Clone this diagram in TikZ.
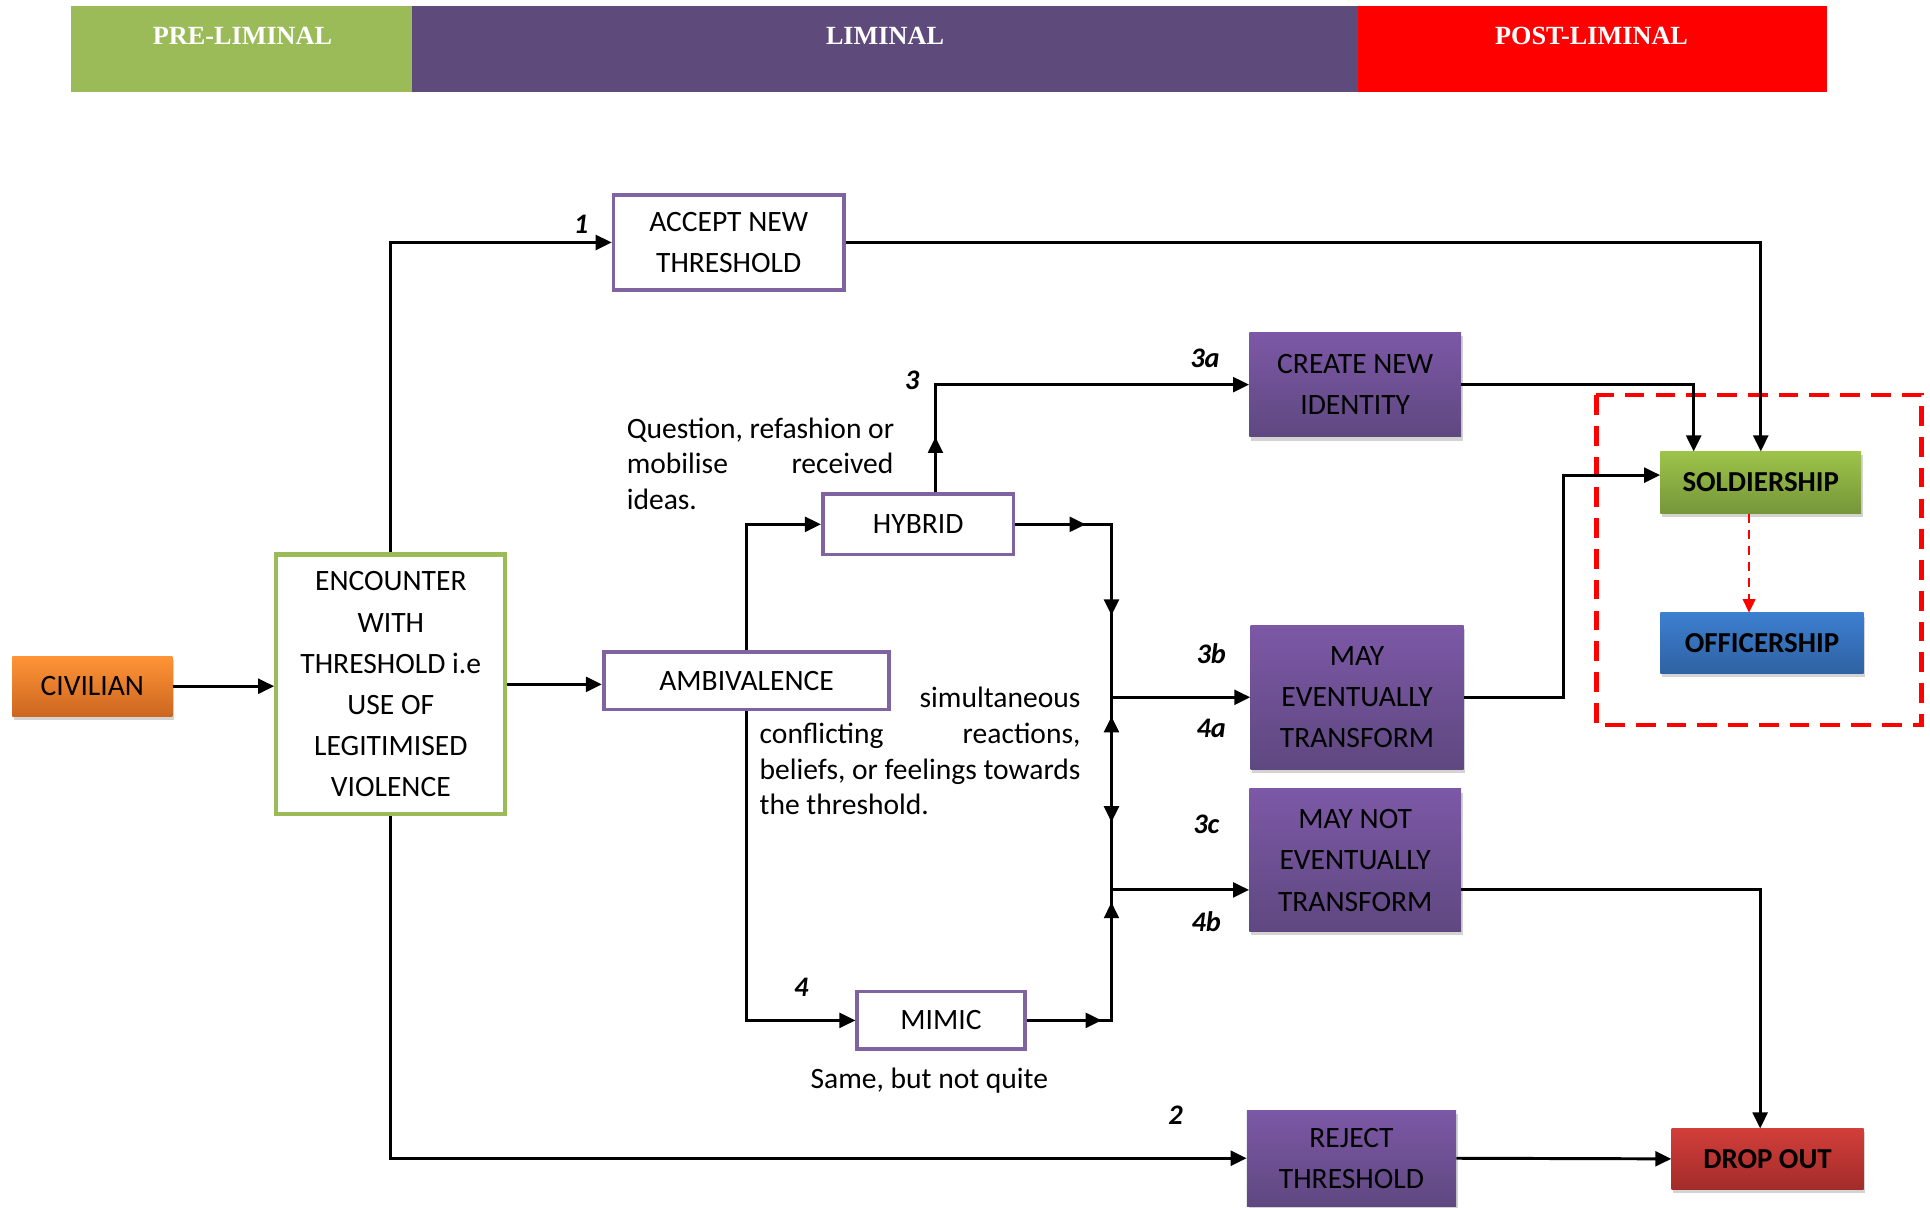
\documentclass[tikz,border=0pt]{standalone}
\usepackage{fontspec}
\setmainfont{Carlito}
\newfontfamily\hdfont{Liberation Serif}
\usetikzlibrary{arrows.meta,shadows}
\definecolor{hgreen}{HTML}{9BBB59}
\definecolor{hpurple}{HTML}{5F4B7B}
\definecolor{hred}{HTML}{FF0000}
\definecolor{outpurple}{HTML}{8064A2}
\definecolor{outgreen}{HTML}{9BBB59}
\definecolor{ptop}{RGB}{124,88,166}
\definecolor{pbot}{RGB}{95,72,128}
\definecolor{otop}{RGB}{255,148,54}
\definecolor{obot}{RGB}{204,102,32}
\definecolor{gtop}{RGB}{157,195,73}
\definecolor{gbot}{RGB}{118,150,58}
\definecolor{btop}{RGB}{61,127,208}
\definecolor{bbot}{RGB}{46,98,163}
\definecolor{rtop}{RGB}{210,62,58}
\definecolor{rbot}{RGB}{163,44,42}
\begin{document}
\begin{tikzpicture}[x=1pt,y=-1pt,
  font=\fontsize{24}{33.5}\selectfont,
  hdtext/.style={text=white,font=\hdfont\bfseries\fontsize{21.3}{24}\selectfont},
  outbox/.style={draw=outpurple,line width=3pt,fill=white,inner sep=0pt,align=center},
  gbox/.style={draw=outgreen,line width=3.5pt,fill=white,inner sep=0pt,align=center},
  shbox/.style={inner sep=0pt,align=center,
    drop shadow={opacity=0.35,shadow xshift=1.5pt,shadow yshift=-3pt}},
  purplebox/.style={shbox,top color=ptop,bottom color=pbot},
  orangebox/.style={shbox,top color=otop,bottom color=obot},
  greenbox/.style={shbox,font=\bfseries\fontsize{23.5}{28}\selectfont,top color=gtop,bottom color=gbot},
  bluebox/.style={shbox,font=\bfseries\fontsize{23.5}{28}\selectfont,top color=btop,bottom color=bbot},
  redbox/.style={shbox,font=\bfseries\fontsize{23.5}{28}\selectfont,top color=rtop,bottom color=rbot},
  arr/.style={draw,line width=2.4pt,-{Triangle[length=13pt,width=12pt]}},
  line/.style={draw,line width=2.4pt},
  num/.style={font=\bfseries\itshape\fontsize{23}{26}\selectfont,inner sep=0pt},
  note/.style={inner sep=0pt}
]
\useasboundingbox (0,0) rectangle (1568,981);

% phase bands
\fill[hgreen] (58,5) rectangle (336,75);
\fill[hpurple] (335,5) rectangle (1104,75);
\fill[hred] (1103,5) rectangle (1484,75);
\node[hdtext] (hpre) at (197,29) {PRE-LIMINAL};
\node[hdtext] (hlim) at (719,29) {LIMINAL};
\node[hdtext] (hpost) at (1293,29) {POST-LIMINAL};

% nodes
\node[orangebox,minimum width=130pt,minimum height=49pt] (civ) at (75,557.5) {CIVILIAN};
\node[gbox,minimum width=186pt,minimum height=211pt] (enc) at (317.5,556)
  {ENCOUNTER\\WITH\\THRESHOLD i.e\\USE OF\\LEGITIMISED\\VIOLENCE};
\node[outbox,minimum width=187pt,minimum height=77pt] (acc) at (592,197) {ACCEPT NEW\\THRESHOLD};
\node[outbox,minimum width=155pt,minimum height=49pt] (hyb) at (746,426) {HYBRID};
\node[outbox,minimum width=232pt,minimum height=47pt] (amb) at (606.5,553) {AMBIVALENCE};
\node[outbox,minimum width=136pt,minimum height=47pt] (mim) at (764.5,829) {MIMIC};
\node[purplebox,minimum width=172pt,minimum height=85pt] (cni) at (1101,312.5) {CREATE NEW\\IDENTITY};
\node[purplebox,minimum width=173pt,minimum height=117pt] (met) at (1102.5,566.5) {MAY\\EVENTUALLY\\TRANSFORM};
\node[purplebox,minimum width=172pt,minimum height=116pt] (mnt) at (1101,699) {MAY NOT\\EVENTUALLY\\TRANSFORM};
\node[purplebox,minimum width=170pt,minimum height=78pt] (rej) at (1098,941) {REJECT\\THRESHOLD};
\node[greenbox,minimum width=163pt,minimum height=50pt] (sol) at (1430.5,392) {SOLDIERSHIP};
\node[bluebox,minimum width=165pt,minimum height=49pt] (off) at (1431.5,522.5) {OFFICERSHIP};
\node[redbox,minimum width=156pt,minimum height=49pt] (drop) at (1436,941.5) {DROP OUT};

% dashed frame around the post-liminal outcomes
\draw[hred,line width=3.5pt,dash pattern=on 16pt off 9pt] (1297,321) rectangle (1561,589);

% bus and helper points
\coordinate (bt) at (903,426);
\coordinate (bb) at (903,829);
\coordinate (j1) at (903,566.5);
\coordinate (j2) at (903,723);
\coordinate (ah) at (882,426);
\coordinate (am) at (895,829);
\coordinate (d1) at (903,500);
\coordinate (u1a) at (903,620);
\coordinate (u1) at (903,582);
\coordinate (d2) at (903,668);
\coordinate (u2a) at (903,770);
\coordinate (u2) at (903,733);
\coordinate (h3) at (760,355);
\coordinate (jm) at (1270,386);

% connectors
\draw[arr] (civ.east) -- (civ.east -| enc.west);
\draw[arr] (enc.north) |- (acc.west);
\draw[arr] (enc.east) -- (enc.east -| amb.west);
\draw[arr] (enc.south) |- (rej.west);
\draw[arr] (acc.east) -| (sol.north);
\draw[arr] (amb.north) |- (hyb.west);
\draw[arr] (amb.south) |- (mim.west);
\draw[arr] ([xshift=14pt]hyb.north) |- (cni.west);
\draw[arr] ([xshift=14pt]hyb.north) -- (h3);
\draw[arr] (cni.east) -| ([xshift=-54.5pt]sol.north);
\draw[line] (hyb.east) -- (bt) -- (bb) -- (mim.east);
\draw[arr] (hyb.east) -- (ah);
\draw[arr] (mim.east) -- (am);
\draw[arr] (bt) -- (d1);
\draw[arr] (u1a) -- (u1);
\draw[arr] (j1) -- (d2);
\draw[arr] (u2a) -- (u2);
\draw[arr] (j1) -- (met.west);
\draw[arr] (j2) -- (j2 -| mnt.west);
\draw[arr] (met.east) -- (met.east -| jm) |- (jm) -- ([yshift=6pt]sol.west);
\draw[arr] ([yshift=-24pt]mnt.east) -| ([xshift=-6pt]drop.north);
\draw[arr] (rej.east) -- (drop.west);
\draw[hred,line width=2.2pt,dash pattern=on 8pt off 5pt,-{Triangle[length=11pt,width=10pt]}]
  ([xshift=-9.5pt]sol.south) -- ([xshift=-10.5pt]off.north);

% path numbers
\node[num] (n1) at (472,182) {1};
\node[num] (n3) at (741,309) {3};
\node[num] (n3a) at (979,291) {3a};
\node[num] (n3b) at (984,531) {3b};
\node[num] (n4a) at (984,592) {4a};
\node[num] (n3c) at (980,670) {3c};
\node[num] (n4b) at (980,749) {4b};
\node[num] (n4) at (651,802) {4};
\node[num] (n2) at (955,906) {2};

% notes
\node[note,anchor=base west] (q1) at (509,356) {Question, refashion or};
\node[note,anchor=base west] (q2a) at (509,385) {mobilise};
\node[note,anchor=base east] (q2b) at (726,385) {received};
\node[note,anchor=base west] (q3) at (509,414) {ideas.};
\node[note,anchor=base east] (s1) at (878,575) {simultaneous};
\node[note,anchor=base west] (s2a) at (617,604) {conflicting};
\node[note,anchor=base east] (s2b) at (878,604) {reactions,};
\node[note,anchor=base west] (s3) at (617,633) {beliefs, or feelings towards};
\node[note,anchor=base west] (s4) at (617,662) {the threshold.};
\node[note,anchor=base] (sm) at (755,884) {Same, but not quite};
\end{tikzpicture}
\end{document}
